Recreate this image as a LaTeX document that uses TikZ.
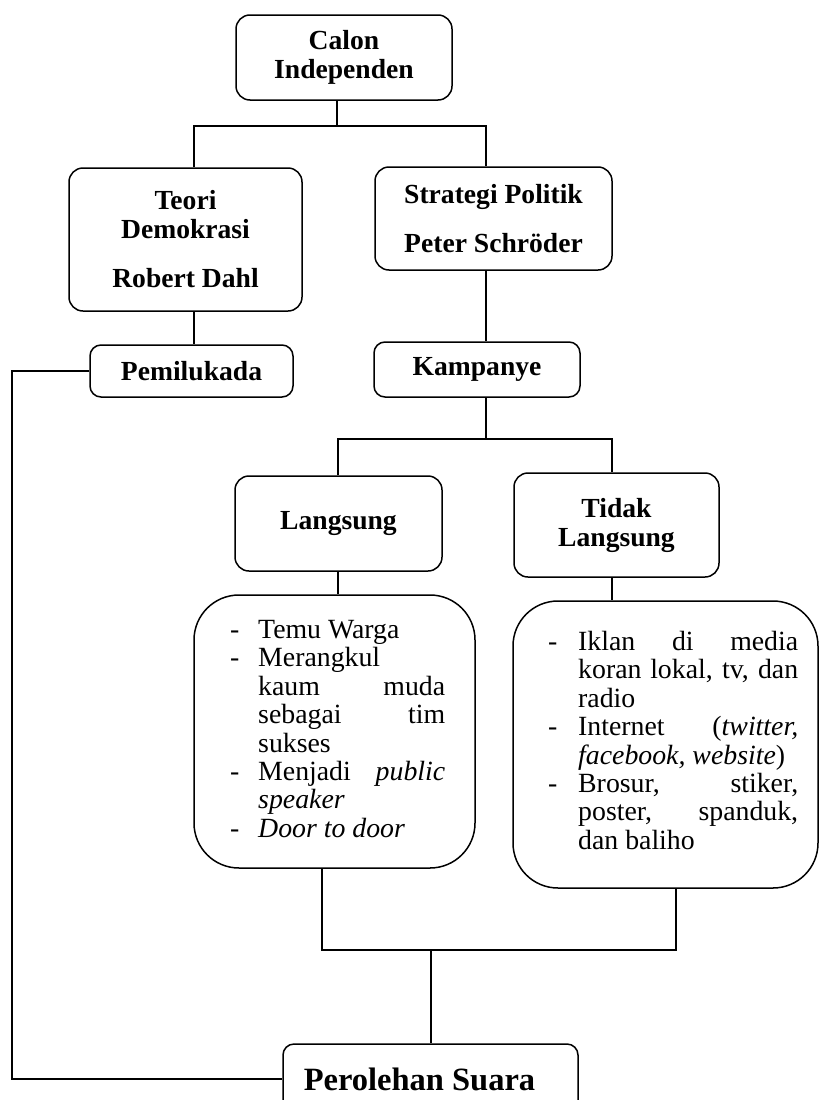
\documentclass[tikz,border=0pt]{standalone}
\usepackage{fontspec}
\setmainfont{Liberation Serif}
\newcommand{\itmA}[1]{\makebox[28pt][l]{-}#1}
\newcommand{\cntA}[1]{\hspace*{28pt}#1}
\newcommand{\jA}[1]{\makebox[187pt][s]{#1}}
\newcommand{\itmB}[1]{\makebox[30pt][l]{-}#1}
\newcommand{\cntB}[1]{\hspace*{30pt}#1}
\newcommand{\jB}[1]{\makebox[220pt][s]{#1}}
\begin{document}
\begin{tikzpicture}[x=1pt,y=-1pt,
  box/.style={draw, line width=1.5pt, rounded corners=14pt, inner sep=0pt, align=center,
    font=\bfseries\fontsize{27.6}{29}\selectfont},
  listbox/.style={draw, line width=1.5pt, rounded corners=45pt, inner sep=0pt},
  listtext/.style={align=left, inner sep=0pt, anchor=north west, font=\fontsize{27.8}{28.4}\selectfont},
  conn/.style={line width=1.5pt}]
\clip (0,0) rectangle (820,1100);
\fill[white] (0,0) rectangle (820,1100);

% boxes
\node[box, minimum width=216pt, minimum height=85pt] (calon) at (344,57.5) {Calon\\Independen};
\node[box, minimum width=233pt, minimum height=143pt] (teori) at (185.5,239.5) {Teori\\Demokrasi\\[20pt]Robert Dahl};
\node[box, minimum width=237pt, minimum height=103pt] (strategi) at (493.5,218.5) {Strategi Politik\\[20pt]Peter Schröder};
\node[box, minimum width=203pt, minimum height=52pt, rounded corners=11pt] (pemilu) at (191.5,371) {Pemilukada};
\node[box, minimum width=206pt, minimum height=55pt, rounded corners=11pt] (kamp) at (477,369.5) {Kampanye};
\node[box, minimum width=207pt, minimum height=95pt] (lang) at (338.5,523.5) {Langsung};
\node[box, minimum width=205pt, minimum height=104pt] (tidak) at (616.5,525) {Tidak\\Langsung};
\node[listbox, minimum width=281pt, minimum height=273pt] (llist) at (334.5,731.5) {};
\node[listbox, minimum width=305pt, minimum height=287pt] (tlist) at (665.5,744.5) {};
\node[box, minimum width=295pt, minimum height=70pt, rounded corners=11pt,
  font=\bfseries\fontsize{32.5}{34}\selectfont] (pero) at (430.5,1079) {Perolehan Suara\hspace*{22pt}};

% list texts
\node[listtext] (ltext) at (230,620) {%
\itmA{Temu Warga}\\
\itmA{Merangkul}\\
\cntA{\jA{kaum muda}}\\
\cntA{\jA{sebagai tim}}\\
\cntA{sukses}\\
\itmA{\jA{Menjadi \textit{public}}}\\
\cntA{\textit{speaker}}\\
\itmA{\textit{Door to door}}};
\node[listtext] (ttext) at (548,631) {%
\itmB{\jB{Iklan di media}}\\
\cntB{\jB{koran lokal, tv, dan}}\\
\cntB{radio}\\
\itmB{\jB{Internet (\textit{twitter,}}}\\
\cntB{\textit{facebook, website})}\\
\itmB{\jB{Brosur, stiker,}}\\
\cntB{\jB{poster, spanduk,}}\\
\cntB{dan baliho}};

% junctions
\coordinate (j1) at (337,126);
\coordinate (ta) at (194,126);
\coordinate (sa) at (486,126);
\coordinate (kb) at (486,439);
\coordinate (la) at (338,439);
\coordinate (ra) at (612,439);
\coordinate (lb) at (322,950);
\coordinate (rb) at (676,950);
\coordinate (mb) at (431,950);
\coordinate (lt) at (12,366);

% connectors
\draw[conn] (j1 |- calon.south) -- (j1);
\draw[conn] (ta |- teori.north) -- (ta) -- (sa) -- (sa |- strategi.north);
\draw[conn] (ta |- teori.south) -- (ta |- pemilu.north);
\draw[conn] (sa |- strategi.south) -- (sa |- kamp.north);
\draw[conn] (kb |- kamp.south) -- (kb);
\draw[conn] (la |- lang.north) -- (la) -- (ra) -- (ra |- tidak.north);
\draw[conn] (la |- lang.south) -- (la |- llist.north);
\draw[conn] (ra |- tidak.south) -- (ra |- tlist.north);
\draw[conn] (lb |- llist.south) -- (lb) -- (rb) -- (rb |- tlist.south);
\draw[conn] (mb) -- (mb |- pero.north);
\draw[conn] (pemilu.west) -- (pemilu.west -| lt) |- (pero.west);
\end{tikzpicture}
\end{document}
